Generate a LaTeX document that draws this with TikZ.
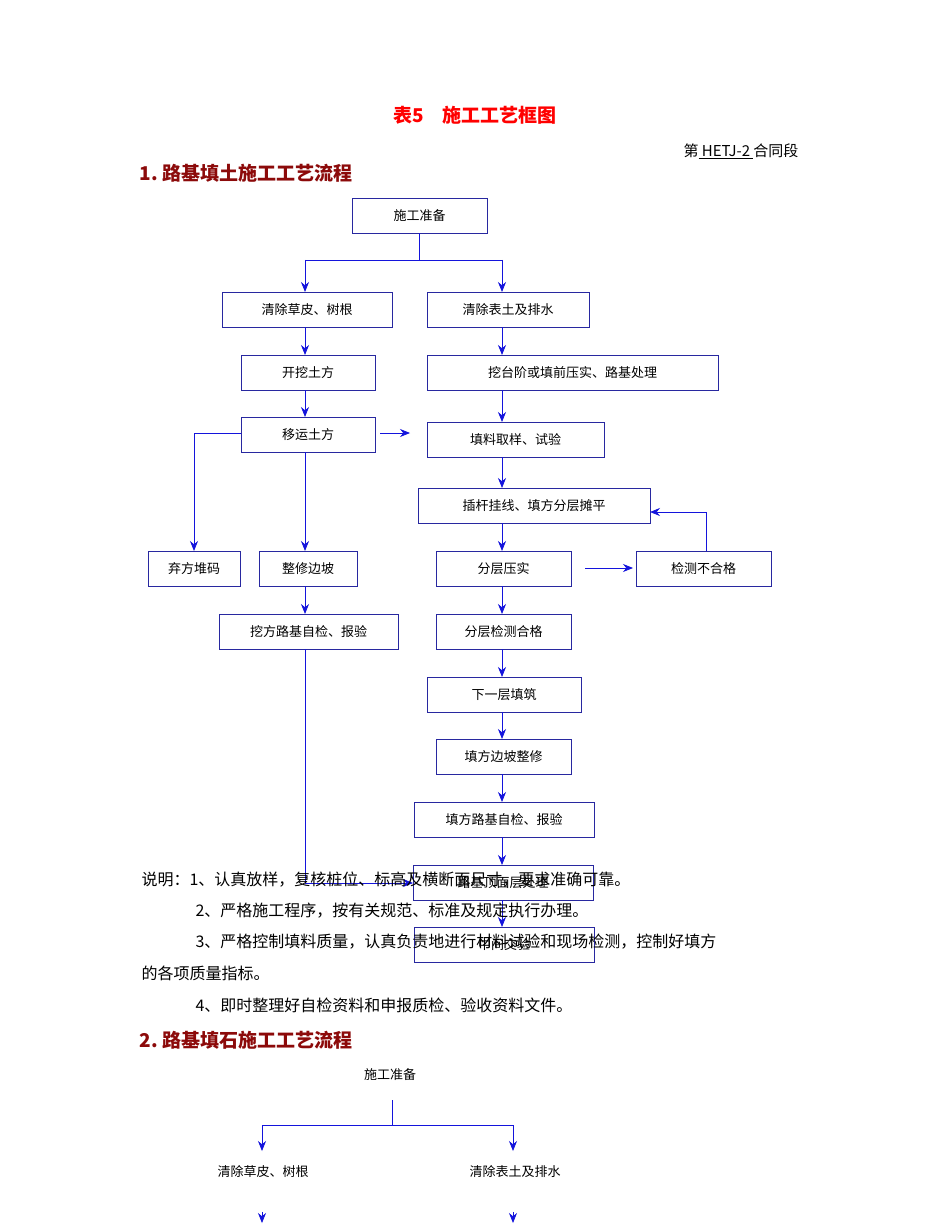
\documentclass[tikz,border=0pt]{standalone}
\usepackage{fontspec}
\newfontfamily\cjk{Noto Sans CJK SC}
\setmainfont{Noto Sans CJK SC}
\usetikzlibrary{arrows.meta}
\definecolor{ln}{RGB}{20,20,220}
\definecolor{bx}{RGB}{40,40,160}
\definecolor{hd}{RGB}{140,10,10}
\begin{document}
\begin{tikzpicture}[x=1pt,y=-1pt,
  bx/.style={draw=bx,line width=0.8pt,inner sep=0pt,font=\fontsize{13}{14}\selectfont},
  ar/.style={draw=ln,line width=0.8pt,-{Stealth[length=10pt,width=8pt]}},
  ln/.style={draw=ln,line width=0.8pt},
  nt/.style={anchor=west,font=\fontsize{16}{17}\selectfont},
  lb/.style={font=\fontsize{13}{14}\selectfont}]
\useasboundingbox (0,0) rectangle (950,1230);
\newcommand\bxn[6]{\node[bx,minimum width=#4-#2,minimum height=#5-#3] (#1) at ({(#2+#4)/2},{(#3+#5)/2}) {#6};}
\node[text=red,font=\fontsize{19}{20}\selectfont\bfseries] (title) at (475,115) {表5\quad 施工工艺框图};
\node[anchor=east,font=\fontsize{15}{16}\selectfont] (sec) at (802,151) {第\underline{\ HETJ-2\ }合同段};
\node[anchor=west,text=hd,font=\fontsize{19}{20}\selectfont\bfseries] (h1) at (136,173) {1.\ 路基填土施工工艺流程};
\bxn{a}{352}{198}{487}{233}{施工准备}
\bxn{b1}{222}{292}{392}{327}{清除草皮、树根}
\bxn{b2}{427}{292}{589}{327}{清除表土及排水}
\bxn{c1}{241}{355}{375}{390}{开挖土方}
\bxn{c2}{427}{355}{718}{390}{挖台阶或填前压实、路基处理}
\bxn{d1}{241}{417}{375}{452}{移运土方}
\bxn{d2}{427}{422}{604}{457}{填料取样、试验}
\bxn{e2}{418}{488}{650}{523}{插杆挂线、填方分层摊平}
\bxn{f0}{148}{551}{240}{586}{弃方堆码}
\bxn{f1}{259}{551}{357}{586}{整修边坡}
\bxn{f2}{436}{551}{571}{586}{分层压实}
\bxn{f3}{636}{551}{771}{586}{检测不合格}
\bxn{g1}{219}{614}{398}{649}{挖方路基自检、报验}
\bxn{g2}{436}{614}{571}{649}{分层检测合格}
\bxn{h2}{427}{677}{581}{712}{下一层填筑}
\bxn{i2}{436}{739}{571}{774}{填方边坡整修}
\bxn{j2}{414}{802}{594}{837}{填方路基自检、报验}
\bxn{k2}{413}{865}{593}{900}{路基顶面层处理}
\bxn{l2}{414}{927}{594}{962}{中间交验}
% connectors
\coordinate (t0) at (419,260);
\draw[ln] (a.south -| t0) -- (t0);
\draw[ln] (305,260) -- (502,260);
\draw[ar] (305,260) -- (305,292);
\draw[ar] (502,260) -- (502,292);
\draw[ar] (305,327) -- (305,355);
\draw[ar] (305,390) -- (305,417);
\draw[ar] (502,327) -- (502,355);
\draw[ar] (502,390) -- (502,422);
\coordinate (r1) at (380,433); \coordinate (r2) at (410,433);
\draw[ar] (r1) -- (r2);
\draw[ar] (d1.west |- 0,433) -- (194,433) -- (194,551);
\draw[ar] (305,452) -- (305,551);
\draw[ar] (502,457) -- (502,488);
\draw[ar] (502,523) -- (502,551);
\coordinate (s1) at (585,568); \coordinate (s2) at (633,568);
\draw[ar] (s1) -- (s2);
\draw[ar] (706,551) -- (706,512) -- (650,512);
\draw[ar] (502,586) -- (502,614);
\draw[ar] (502,649) -- (502,677);
\draw[ar] (502,712) -- (502,739);
\draw[ar] (502,774) -- (502,802);
\draw[ar] (502,837) -- (502,865);
\draw[ar] (502,900) -- (502,927);
\draw[ar] (305,586) -- (305,614);
\draw[ar] (305,649) -- (305,883) -- (413,883);
% notes
\node[nt] (n1) at (138,880) {说明：1、认真放样，复核桩位、标高及横断面尺寸，要求准确可靠。};
\node[nt] (n2) at (192,911) {2、严格施工程序，按有关规范、标准及规定执行办理。};
\node[nt] (n3) at (192,942) {3、严格控制填料质量，认真负责地进行材料试验和现场检测，控制好填方};
\node[nt] (n4) at (138,973) {的各项质量指标。};
\node[nt] (n5) at (192,1005) {4、即时整理好自检资料和申报质检、验收资料文件。};
\node[anchor=west,text=hd,font=\fontsize{19}{20}\selectfont\bfseries] (h2) at (136,1040) {2.\ 路基填石施工工艺流程};
\node[lb] (p0) at (390,1075) {施工准备};
\node[lb] (p1) at (263,1172) {清除草皮、树根};
\node[lb] (p2) at (515,1172) {清除表土及排水};
\draw[ln] (392,1100) -- (392,1125);
\draw[ln] (262,1125) -- (513,1125);
\draw[ar] (262,1125) -- (262,1151);
\draw[ar] (513,1125) -- (513,1151);
\draw[ar] (262,1212) -- (262,1223);
\draw[ar] (513,1212) -- (513,1223);
\end{tikzpicture}
\end{document}
